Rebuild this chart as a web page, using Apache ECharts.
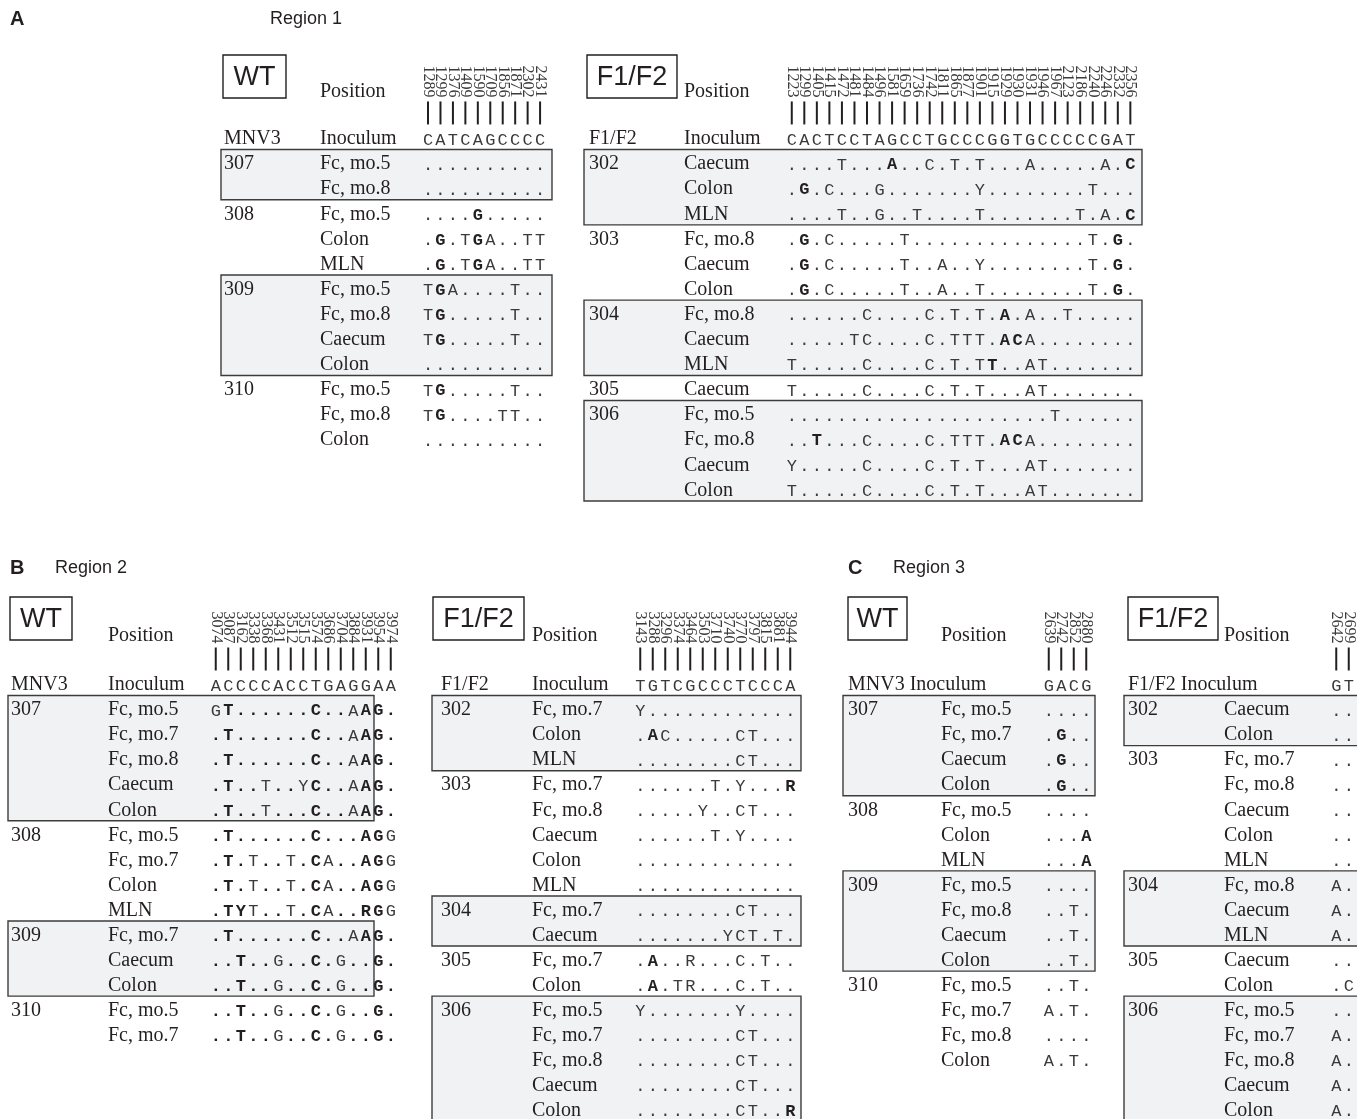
<!DOCTYPE html>
<html><head><meta charset="utf-8">
<script src="https://cdn.jsdelivr.net/npm/echarts@6/dist/echarts.min.js"></script>
<style>html,body{margin:0;padding:0;background:#fff}#c{width:1357px;height:1119px}</style>
</head><body><div id="c"></div>
<script>
// ================= DATA =================
// Lower-case letter = mutation printed in bold.
// ---- Region 1, WT (MNV3)
const A_WT_positions = ['1289','1299','1376','1409','1590','1709','1856','1871','2302','2431'];
const A_WT_reference = 'CATCAGCCCC';
const A_WT_animals = ['307','','308','','','309','','','','310','',''];
const A_WT_inocula = ['Fc, mo.5','Fc, mo.8','Fc, mo.5','Colon','MLN','Fc, mo.5','Fc, mo.8','Caecum','Colon','Fc, mo.5','Fc, mo.8','Colon'];
const A_WT_sequences = ['..........','..........','....g.....','.g.TgA..TT','.g.TgA..TT','TgA....T..','Tg.....T..','Tg.....T..','..........','Tg.....T..','Tg....TT..','..........'];

// ---- Region 1, F1/F2
const A_F1_positions = ['1223','1299','1405','1415','1472','1481','1484','1496','1581','1659','1736','1742','1811','1865','1877','1901','1915','1929','1930','1931','1946','1967','2123','2186','2240','2246','2332','2356'];
const A_F1_reference = 'CACTCCTAGCCTGCCCGGTGCCCCCGAT';
const A_F1_animals = ['302','','','303','','','304','','','305','306','','',''];
const A_F1_inocula = ['Caecum','Colon','MLN','Fc, mo.8','Caecum','Colon','Fc, mo.8','Caecum','MLN','Caecum','Fc, mo.5','Fc, mo.8','Caecum','Colon'];
const A_F1_sequences = [
  '....T...a..C.T.T...A.....A.c',
  '.g.C...G.......Y........T...',
  '....T..G..T....T.......T.A.c',
  '.g.C.....T..............T.g.',
  '.g.C.....T..A..Y........T.g.',
  '.g.C.....T..A..T........T.g.',
  '......C....C.T.T.a.A..T.....',
  '.....TC....C.TTT.acA........',
  'T.....C....C.T.Tt..AT.......',
  'T.....C....C.T.T...AT.......',
  '.....................T......',
  '..t...C....C.TTT.acA........',
  'Y.....C....C.T.T...AT.......',
  'T.....C....C.T.T...AT.......'
];

// ---- Region 2, WT (MNV3)
const B_WT_positions = ['3074','3087','3162','3338','3368','3431','3512','3515','3574','3686','3704','3884','3931','3954','3974'];
const B_WT_reference = 'ACCCCACCTGAGGAA';
const B_WT_animals = ['307','','','','','308','','','','309','','','310',''];
const B_WT_inocula = ['Fc, mo.5','Fc, mo.7','Fc, mo.8','Caecum','Colon','Fc, mo.5','Fc, mo.7','Colon','MLN','Fc, mo.7','Caecum','Colon','Fc, mo.5','Fc, mo.7'];
const B_WT_sequences = [
  'Gt......c..Aag.',
  '.t......c..Aag.',
  '.t......c..Aag.',
  '.t..T..Yc..Aag.',
  '.t..T...c..Aag.',
  '.t......c...agG',
  '.t.T..T.cA..agG',
  '.t.T..T.cA..agG',
  '.tyT..T.cA..rgG',
  '.t......c..Aag.',
  '..t..G..c.G..g.',
  '..t..G..c.G..g.',
  '..t..G..c.G..g.',
  '..t..G..c.G..g.'
];

// ---- Region 2, F1/F2
const B_F1_positions = ['3143','3288','3296','3374','3464','3503','3710','3740','3770','3797','3815','3881','3944'];
const B_F1_reference = 'TGTCGCCCTCCCA';
const B_F1_animals = ['302','','','303','','','','','304','','305','','306','','','',''];
const B_F1_inocula = ['Fc, mo.7','Colon','MLN','Fc, mo.7','Fc, mo.8','Caecum','Colon','MLN','Fc, mo.7','Caecum','Fc, mo.7','Colon','Fc, mo.5','Fc, mo.7','Fc, mo.8','Caecum','Colon'];
const B_F1_sequences = [
  'Y............',
  '.aC.....CT...',
  '........CT...',
  '......T.Y...r',
  '.....Y..CT...',
  '......T.Y....',
  '.............',
  '.............',
  '........CT...',
  '.......YCT.T.',
  '.a..R...C.T..',
  '.a.TR...C.T..',
  'Y.......Y....',
  '........CT...',
  '........CT...',
  '........CT...',
  '........CT..r'
];

// ---- Region 3, WT (MNV3)
const C_WT_positions = ['2639','2742','2852','2880'];
const C_WT_reference = 'GACG';
const C_WT_animals = ['307','','','','308','','','309','','','','310','','',''];
const C_WT_inocula = ['Fc, mo.5','Fc, mo.7','Caecum','Colon','Fc, mo.5','Colon','MLN','Fc, mo.5','Fc, mo.8','Caecum','Colon','Fc, mo.5','Fc, mo.7','Fc, mo.8','Colon'];
const C_WT_sequences = ['....','.g..','.g..','.g..','....','...a','...a','....','..T.','..T.','..T.','..T.','A.T.','....','A.T.'];

// ---- Region 3, F1/F2
const C_F1_positions = ['2642','2699'];
const C_F1_reference = 'GT';
const C_F1_animals = ['302','','303','','','','','304','','','305','','306','','','',''];
const C_F1_inocula = ['Caecum','Colon','Fc, mo.7','Fc, mo.8','Caecum','Colon','MLN','Fc, mo.8','Caecum','MLN','Caecum','Colon','Fc, mo.5','Fc, mo.7','Fc, mo.8','Caecum','Colon'];
const C_F1_sequences = ['..','..','..','..','..','..','..','A.','A.','A.','..','.C','..','A.','A.','A.','A.'];

// ================= LAYOUT / STYLE =================
const INK = '#231f20';
const SERIF = '20px "Liberation Serif", "Times New Roman", serif';
const MONO = '17px "Liberation Mono", "Courier New", monospace';
const MONO_B = 'bold 17px "Liberation Mono", "Courier New", monospace';
const MONO_INK = '#3a3a3a';
const BOX_FILL = '#f1f2f4';
const BOX_STROKE = '#3c3c3c';
const TEXT_DY = 2;

const tables = [
  {tag:'WT', headId:'MNV3', headInoc:'Inoculum', positions:A_WT_positions, reference:A_WT_reference, animals:A_WT_animals, inocula:A_WT_inocula, sequences:A_WT_sequences,
   L:{left:421.8, top:124.45, colW:12.45, rowH:25.1, idX:224, inocX:320, boxL:221, boxR:552, tagX:223, tagY:55, tagW:63, tagH:43, posY:92}},
  {tag:'F1/F2', headId:'F1/F2', headInoc:'Inoculum', positions:A_F1_positions, reference:A_F1_reference, animals:A_F1_animals, inocula:A_F1_inocula, sequences:A_F1_sequences,
   L:{left:785.5, top:124.45, colW:12.54, rowH:25.1, idX:589, inocX:684, boxL:584, boxR:1142, tagX:587, tagY:55, tagW:90, tagH:43, posY:92}},
  {tag:'WT', headId:'MNV3', headInoc:'Inoculum', positions:B_WT_positions, reference:B_WT_reference, animals:B_WT_animals, inocula:B_WT_inocula, sequences:B_WT_sequences, boldDots:true,
   L:{left:209.5, top:670.5, colW:12.5, rowH:25.05, idX:11, inocX:108, boxL:8, boxR:374, tagX:10, tagY:597, tagW:62, tagH:43, posY:636}},
  {tag:'F1/F2', headId:'F1/F2', headInoc:'Inoculum', positions:B_F1_positions, reference:B_F1_reference, animals:B_F1_animals, inocula:B_F1_inocula, sequences:B_F1_sequences,
   L:{left:634, top:670.5, colW:12.5, rowH:25.05, idX:441, inocX:532, boxL:432, boxR:801, tagX:433, tagY:597, tagW:91, tagH:43, posY:636}},
  {tag:'WT', headId:'MNV3 Inoculum', headInoc:'', positions:C_WT_positions, reference:C_WT_reference, animals:C_WT_animals, inocula:C_WT_inocula, sequences:C_WT_sequences,
   L:{left:1042.5, top:670.5, colW:12.5, rowH:25.05, idX:848, inocX:941, boxL:843, boxR:1095, tagX:848, tagY:597, tagW:59, tagH:43, posY:636}},
  {tag:'F1/F2', headId:'F1/F2 Inoculum', headInoc:'', positions:C_F1_positions, reference:C_F1_reference, animals:C_F1_animals, inocula:C_F1_inocula, sequences:C_F1_sequences,
   L:{left:1330, top:670.5, colW:12.5, rowH:25.05, idX:1128, inocX:1224, boxL:1124, boxR:1380, tagX:1128, tagY:597, tagW:90, tagH:43, posY:636}}
];

const panelTitles = [
  {letter:'A', title:'Region 1', x:10, tx:270, y:19},
  {letter:'B', title:'Region 2', x:10, tx:55, y:568},
  {letter:'C', title:'Region 3', x:848, tx:893, y:568}
];

// ================= BUILD =================
const grids = [], xAxes = [], yAxes = [], series = [], graphics = [];

tables.forEach((t, k) => {
  const L = t.L;
  const rows = [{id:t.headId, inoc:t.headInoc, seq:t.reference, header:true}];
  t.sequences.forEach((s, i) => rows.push({id:t.animals[i], inoc:t.inocula[i], seq:s}));
  // groups of rows belonging to one animal; every other group is boxed and shaded
  const groups = [];
  for (let r = 1; r < rows.length; r++) {
    if (rows[r].id) groups.push({start:r, end:r}); else groups[groups.length-1].end = r;
  }
  const boxed = groups.filter((g, i) => i % 2 === 0);

  grids.push({left:L.left, top:L.top, width:L.colW * t.positions.length, height:L.rowH * rows.length, containLabel:false, outerBoundsMode:'none'});
  xAxes.push({
    gridIndex:k, type:'category', data:t.positions, position:'top', boundaryGap:true,
    axisLine:{show:false}, splitLine:{show:false}, axisTick:{show:false},
    axisLabel:{show:true, interval:0, rotate:-90, margin:27, fontSize:16, fontFamily:'"Liberation Serif", serif', color:'#3a3a3a', hideOverlap:false}
  });
  yAxes.push({gridIndex:k, type:'value', min:-0.5, max:rows.length - 0.5, inverse:true, show:false});

  series.push({
    type:'custom', xAxisIndex:k, yAxisIndex:k, z:1, silent:true, clip:false,
    data: boxed.map(g => [0, g.start, g.end]),
    renderItem: (params, api) => {
      const y0 = api.coord([0, api.value(1) - 0.5])[1];
      const y1 = api.coord([0, api.value(2) + 0.5])[1];
      return {type:'rect', shape:{x:L.boxL, y:y0, width:L.boxR - L.boxL, height:y1 - y0},
              style:{fill:BOX_FILL, stroke:BOX_STROKE, lineWidth:1.4}};
    }
  });

  series.push({
    type:'custom', xAxisIndex:k, yAxisIndex:k, z:5, silent:true, clip:false,
    data: rows.map((r, i) => [0, i]),
    renderItem: (params, api) => {
      const row = rows[params.dataIndex];
      const ri = api.value(1);
      const y = api.coord([0, ri])[1];
      const ch = [];
      if (row.id) ch.push({type:'text', style:{x:L.idX, y:y + TEXT_DY, text:row.id, font:SERIF, fill:INK, align:'left', verticalAlign:'middle'}});
      if (row.inoc) ch.push({type:'text', style:{x:L.inocX, y:y + TEXT_DY, text:row.inoc, font:SERIF, fill:INK, align:'left', verticalAlign:'middle'}});
      for (let c = 0; c < row.seq.length; c++) {
        const s = row.seq[c];
        const bold = (s !== s.toUpperCase()) || (s === '.' && t.boldDots && !row.header);
        const p = api.coord([c, ri]);
        ch.push({type:'text', style:{x:p[0], y:p[1] + TEXT_DY + 1, text:s.toUpperCase(), font: bold ? MONO_B : MONO, fill: bold ? INK : MONO_INK, align:'center', verticalAlign:'middle'}});
        if (row.header) {
          // position marker line above each reference base
          const top = api.coord([c, ri - 0.5])[1];
          ch.push({type:'line', shape:{x1:p[0], y1:top - 23, x2:p[0], y2:top}, style:{stroke:INK, lineWidth:2}});
        }
      }
      return {type:'group', children:ch};
    }
  });

  // tag box (WT / F1/F2) and "Position" heading
  graphics.push({type:'rect', shape:{x:L.tagX, y:L.tagY, width:L.tagW, height:L.tagH}, style:{fill:'#fff', stroke:INK, lineWidth:1.4}});
  graphics.push({type:'text', x:L.tagX + L.tagW / 2, y:L.tagY + L.tagH / 2 + 1, style:{text:t.tag, font:'27px "Liberation Sans", Arial, sans-serif', fill:INK, align:'center', verticalAlign:'middle'}});
  graphics.push({type:'text', x:L.inocX, y:L.posY, style:{text:'Position', font:SERIF, fill:INK, align:'left', verticalAlign:'middle'}});
});

panelTitles.forEach(p => {
  graphics.push({type:'text', x:p.x, y:p.y, style:{text:p.letter, font:'bold 20px "Liberation Sans", Arial, sans-serif', fill:INK, align:'left', verticalAlign:'middle'}});
  graphics.push({type:'text', x:p.tx, y:p.y, style:{text:p.title, font:'18px "Liberation Sans", Arial, sans-serif', fill:INK, align:'left', verticalAlign:'middle'}});
});

const chart = echarts.init(document.getElementById('c'), null, {renderer:'canvas'});
chart.setOption({
  animation:false,
  backgroundColor:'#fff',
  grid:grids, xAxis:xAxes, yAxis:yAxes, series:series,
  graphic:{elements:graphics}
});
</script></body></html>
